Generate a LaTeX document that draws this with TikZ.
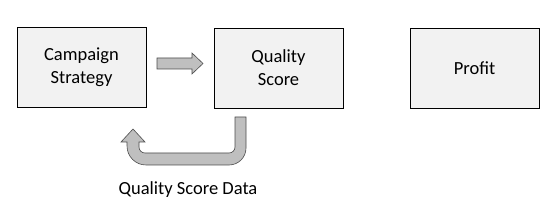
\documentclass[tikz,border=0pt]{standalone}
\usepackage{fontspec}
\setmainfont{Carlito}
\usetikzlibrary{positioning,calc}
\tikzset{>=stealth}

\begin{document}
\begin{tikzpicture}[
    x=1pt, y=-1pt,
    box/.style={draw, line width=0.9pt, fill=black!5, minimum width=129pt, minimum height=80pt, align=center, inner sep=0pt},
    blockarrow/.style={draw=black!70, line width=0.6pt, fill=black!25, line join=miter},
    every node/.style={font=\fontsize{18.5}{23}\selectfont}
  ]
    \useasboundingbox (0,0) rectangle (559,221);
    \node[box] (strategy) at (81.5,67)  {Campaign\\Strategy};
    \node[box] (quality)  at (278.5,68) {Quality\\Score};
    \node[box] (profit)   at (474.5,68) {Profit};
    \node (qsdata) at (188,190) {Quality Score Data};
    % block arrow to the right
    \draw[blockarrow] (157,58) -- (192,58) -- (192,53) -- (203,63.5) -- (192,74) -- (192,69) -- (157,69) -- cycle;
    % u-turn arrow back to the strategy
    \draw[blockarrow] (246,117) -- (246,148) arc[start angle=0, end angle=90, radius=17]
      -- (146,165) arc[start angle=90, end angle=180, radius=19] -- (127,142) -- (121,142) -- (133,129)
      -- (145,142) -- (139,142) -- (139,147) arc[start angle=180, end angle=90, radius=6]
      -- (229,153) arc[start angle=90, end angle=0, radius=6] -- (235,117) -- cycle;
  \end{tikzpicture}
\end{document}
